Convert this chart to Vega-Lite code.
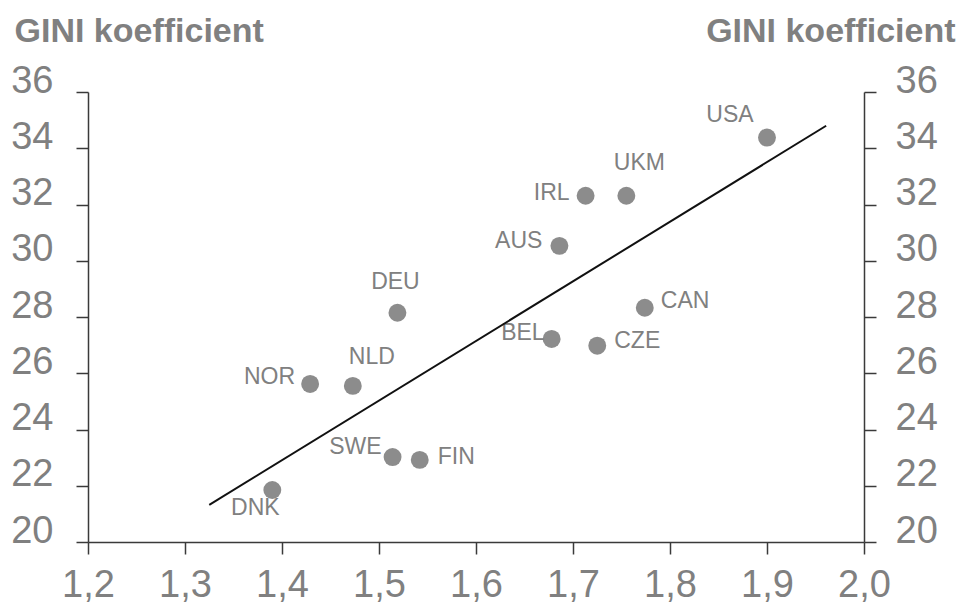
{
  "$schema": "https://vega.github.io/schema/vega-lite/v6.json",
  "width": 776,
  "height": 450,
  "autosize": {"type": "none"},
  "padding": {"left": 88, "top": 92, "right": 98, "bottom": 64},
  "background": "white",
  "config": {
    "view": {"stroke": null},
    "axis": {
      "grid": false,
      "domainColor": "#3a3a3a",
      "domainWidth": 1.5,
      "tickColor": "#3a3a3a",
      "tickWidth": 1.5,
      "tickSize": 12,
      "labelFont": "Liberation Sans",
      "labelFontSize": 38,
      "labelColor": "#808080",
      "titleFont": "Liberation Sans",
      "titleFontSize": 34,
      "titleFontWeight": "bold",
      "titleColor": "#808080"
    },
    "text": {"font": "Liberation Sans", "fontSize": 23, "color": "#808080", "baseline": "middle"}
  },
  "datasets": {
    "pts": [
      {"country": "USA", "x": 1.900, "gini": 34.38},
      {"country": "UKM", "x": 1.755, "gini": 32.31},
      {"country": "IRL", "x": 1.713, "gini": 32.31},
      {"country": "AUS", "x": 1.686, "gini": 30.53},
      {"country": "CAN", "x": 1.774, "gini": 28.33},
      {"country": "DEU", "x": 1.519, "gini": 28.15},
      {"country": "BEL", "x": 1.678, "gini": 27.22},
      {"country": "CZE", "x": 1.725, "gini": 26.98},
      {"country": "NOR", "x": 1.429, "gini": 25.62},
      {"country": "NLD", "x": 1.473, "gini": 25.55},
      {"country": "SWE", "x": 1.514, "gini": 23.02},
      {"country": "FIN", "x": 1.542, "gini": 22.92},
      {"country": "DNK", "x": 1.390, "gini": 21.85}
    ],
    "fit": [
      {"x": 1.325, "gini": 21.32},
      {"x": 1.961, "gini": 34.80}
    ]
  },
  "resolve": {"axis": {"y": "independent"}},
  "layer": [
    {
      "data": {"name": "pts"},
      "encoding": {
        "x": {"field": "x", "type": "quantitative",
          "scale": {"domain": [1.2, 2.0], "nice": false, "zero": false},
          "axis": {"title": null, "values": [1.2, 1.3, 1.4, 1.5, 1.6, 1.7, 1.8, 1.9, 2.0],
            "labelExpr": "replace(format(datum.value, '.1f'), '.', ',')",
            "labelBaseline": "top", "labelPadding": 12, "labelFlush": false}},
        "y": {"field": "gini", "type": "quantitative",
          "scale": {"domain": [20, 36], "nice": false, "zero": false},
          "axis": {"orient": "left", "title": "GINI koefficient", "values": [20, 22, 24, 26, 28, 30, 32, 34, 36],
            "format": "d", "labelBaseline": "alphabetic", "labelPadding": 23,
            "titleAngle": 0, "titleAlign": "left", "titleBaseline": "alphabetic", "titleX": -74, "titleY": -51}},
        "text": {"field": "country"}
      },
      "layer": [
        {"mark": {"type": "circle", "size": 320, "color": "#8c8c8c", "opacity": 1}},
        {"transform": [{"filter": {"field": "country", "equal": "USA"}}], "mark": {"type": "text", "align": "center", "dx": -37, "dy": -23}},
        {"transform": [{"filter": {"field": "country", "equal": "UKM"}}], "mark": {"type": "text", "align": "center", "dx": 13, "dy": -33}},
        {"transform": [{"filter": {"field": "country", "equal": "DEU"}}], "mark": {"type": "text", "align": "center", "dx": -2, "dy": -31}},
        {"transform": [{"filter": {"field": "country", "equal": "NLD"}}], "mark": {"type": "text", "align": "center", "dx": 19, "dy": -29}},
        {"transform": [{"filter": {"field": "country", "equal": "DNK"}}], "mark": {"type": "text", "align": "center", "dx": -17, "dy": 18}},
        {"transform": [{"filter": {"field": "country", "equal": "IRL"}}], "mark": {"type": "text", "align": "right", "dx": -16, "dy": -3}},
        {"transform": [{"filter": {"field": "country", "equal": "AUS"}}], "mark": {"type": "text", "align": "right", "dx": -17, "dy": -5}},
        {"transform": [{"filter": {"field": "country", "equal": "NOR"}}], "mark": {"type": "text", "align": "right", "dx": -15, "dy": -7}},
        {"transform": [{"filter": {"field": "country", "equal": "BEL"}}], "mark": {"type": "text", "align": "right", "dx": -7, "dy": -6}},
        {"transform": [{"filter": {"field": "country", "equal": "SWE"}}], "mark": {"type": "text", "align": "right", "dx": -11, "dy": -10}},
        {"transform": [{"filter": {"field": "country", "equal": "CAN"}}], "mark": {"type": "text", "align": "left", "dx": 16, "dy": -7}},
        {"transform": [{"filter": {"field": "country", "equal": "CZE"}}], "mark": {"type": "text", "align": "left", "dx": 17, "dy": -5}},
        {"transform": [{"filter": {"field": "country", "equal": "FIN"}}], "mark": {"type": "text", "align": "left", "dx": 18, "dy": -3}}
      ]
    },
    {
      "data": {"name": "fit"},
      "mark": {"type": "line", "color": "#111111", "strokeWidth": 2},
      "encoding": {
        "x": {"field": "x", "type": "quantitative"},
        "y": {"field": "gini", "type": "quantitative",
          "axis": {"orient": "right", "title": "GINI koefficient", "values": [20, 22, 24, 26, 28, 30, 32, 34, 36],
            "format": "d", "labelBaseline": "alphabetic", "labelPadding": 19, "labelAlign": "left",
            "titleAngle": 0, "titleAlign": "right", "titleBaseline": "alphabetic", "titleX": 91, "titleY": -51}}
      }
    }
  ]
}
